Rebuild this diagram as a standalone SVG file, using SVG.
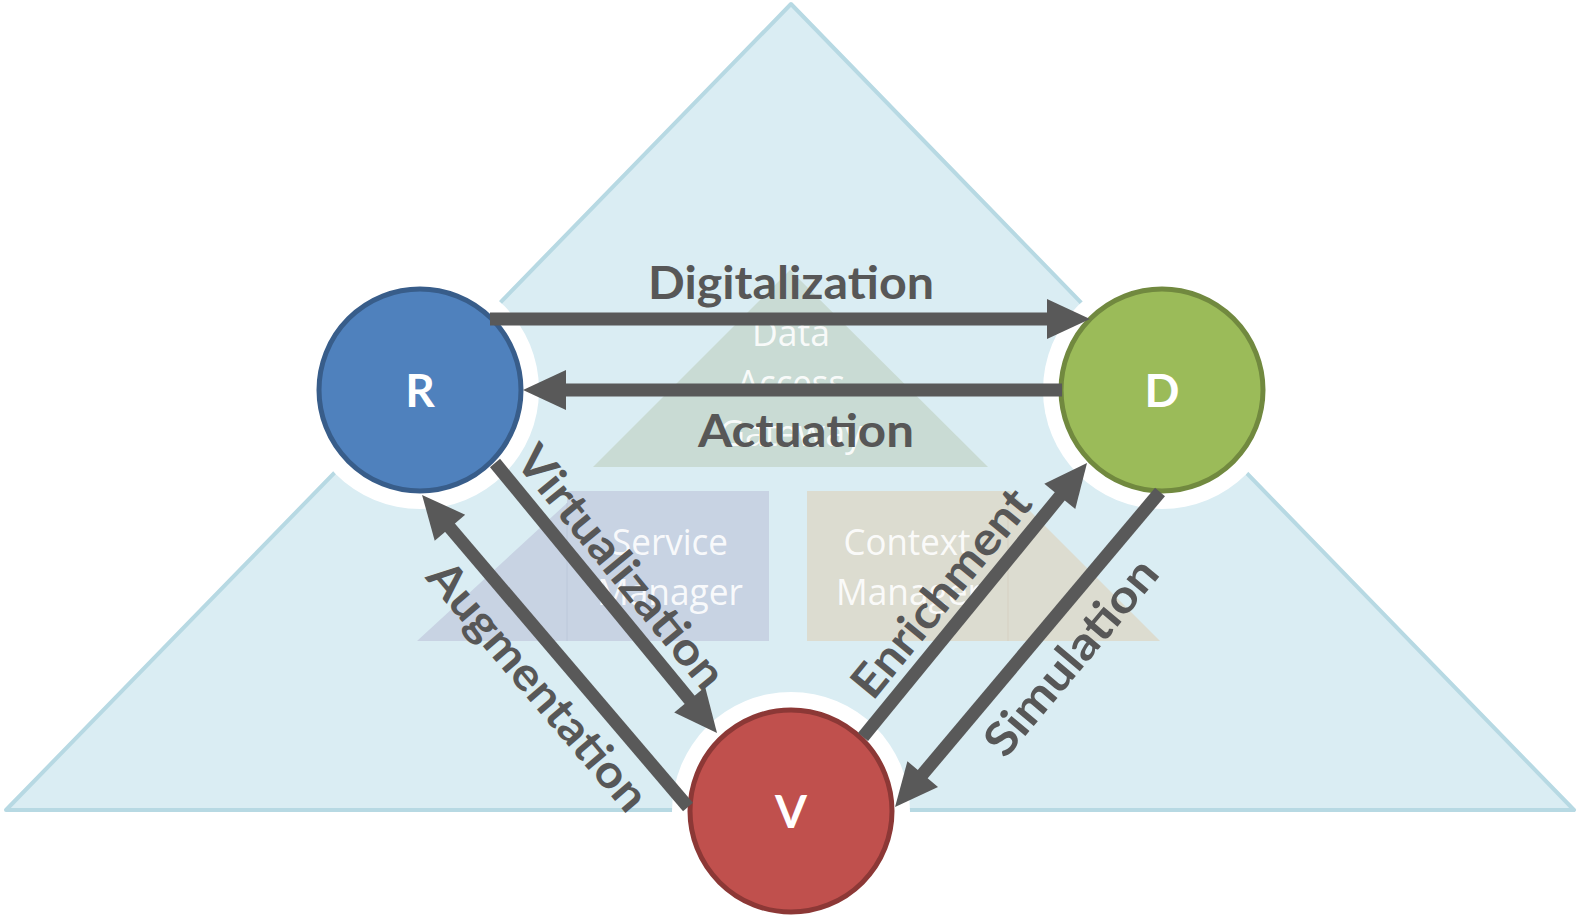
<svg xmlns="http://www.w3.org/2000/svg" width="1579" height="916" viewBox="0 0 1579 916">
<style>
.lbl{font-family:Lato,"Open Sans","Liberation Sans",sans-serif;font-weight:700;font-size:46px;fill:#575757;text-anchor:middle}
.node{font-family:Lato,"Open Sans","Liberation Sans",sans-serif;font-weight:700;font-size:46px;fill:#ffffff;text-anchor:middle}
.fade{font-family:"Open Sans",Lato,"Liberation Sans",sans-serif;font-weight:400;font-size:36px;fill:#ffffff;fill-opacity:0.9;text-anchor:middle}
.halo{fill:#ffffff}
.conn{stroke:#595959;stroke-width:13;fill:none;marker-end:url(#ah)}
</style>
<defs>
<marker id="ah" markerUnits="userSpaceOnUse" orient="auto" refX="0" refY="0" markerWidth="50" markerHeight="50" viewBox="-5 -25 50 50" overflow="visible">
<path d="M-3,-20 L40,0 L-3,20 z" fill="#595959"/>
</marker>
</defs>
<rect width="1579" height="916" fill="#ffffff"/>
<g id="background">
<polygon points="791,4 1574,810 6,810" fill="#daedf3" stroke="#b7d9e3" stroke-width="4" stroke-linejoin="round"/>
</g>
<g id="halos">
<circle class="halo" cx="420" cy="390" r="119"/>
<circle class="halo" cx="1162" cy="390" r="119"/>
<circle class="halo" cx="791" cy="811" r="119"/>
</g>
<g id="data-access-gateway">
<polygon points="790,270 988,467 593,467" fill="#c9dbd4"/>
<text class="fade" x="791" y="346" textLength="78" lengthAdjust="spacingAndGlyphs">Data</text>
<text class="fade" x="791" y="396" textLength="108" lengthAdjust="spacingAndGlyphs">Access</text>
<text class="fade" x="791" y="446" textLength="144" lengthAdjust="spacingAndGlyphs">Gateway</text>
</g>
<g id="service-manager">
<polygon points="417,641 567,503 567,491 769,491 769,641" fill="#c8d3e3"/>
<line x1="567" y1="503" x2="567" y2="641" stroke="#bcc8da" stroke-width="1"/>
<text class="fade" x="670" y="555" textLength="116" lengthAdjust="spacingAndGlyphs">Service</text>
<text class="fade" x="670" y="605" textLength="146" lengthAdjust="spacingAndGlyphs">Manager</text>
</g>
<g id="context-manager">
<polygon points="807,491 1010,491 1160,641 807,641" fill="#dcdcd0"/>
<line x1="1008" y1="491" x2="1008" y2="641" stroke="#d6d0c2" stroke-width="1"/>
<text class="fade" x="907" y="555" textLength="127" lengthAdjust="spacingAndGlyphs">Context</text>
<text class="fade" x="909" y="605" textLength="146" lengthAdjust="spacingAndGlyphs">Manager</text>
</g>
<g id="node-R">
<circle cx="420" cy="390" r="101" fill="#4f81bd" stroke="#385d8a" stroke-width="5"/>
<text class="node" x="420" y="407">R</text>
</g>
<g id="node-D">
<circle cx="1162" cy="390" r="101" fill="#9bbb59" stroke="#71893f" stroke-width="5"/>
<text class="node" x="1162" y="407">D</text>
</g>
<g id="node-V">
<circle cx="791" cy="811" r="101" fill="#c0504d" stroke="#8c3836" stroke-width="5"/>
<text class="node" x="791" y="828">V</text>
</g>
<g id="connectors">
<line class="conn" x1="490" y1="319" x2="1050" y2="319"/>
<line class="conn" x1="1062" y1="390" x2="563" y2="390"/>
<line class="conn" x1="495" y1="463" x2="691.6" y2="702.1"/>
<line class="conn" x1="688" y1="807" x2="448" y2="525.4"/>
<line class="conn" x1="863" y1="737" x2="1061.7" y2="494"/>
<line class="conn" x1="1160" y1="492" x2="920.8" y2="776.4"/>
</g>
<g id="labels">
<text class="lbl" x="791" y="299" textLength="286" lengthAdjust="spacingAndGlyphs">Digitalization</text>
<text class="lbl" x="806" y="447" textLength="216" lengthAdjust="spacingAndGlyphs">Actuation</text>
<text class="lbl" transform="translate(621,567) rotate(50.6)" x="0" y="16" textLength="300" lengthAdjust="spacingAndGlyphs">Virtualization</text>
<text class="lbl" transform="translate(538,686) rotate(49.5)" x="0" y="16" textLength="312" lengthAdjust="spacingAndGlyphs">Augmentation</text>
<text class="lbl" transform="translate(941,593) rotate(-50.7)" x="0" y="16" textLength="255" lengthAdjust="spacingAndGlyphs">Enrichment</text>
<text class="lbl" transform="translate(1071,657) rotate(-49.9)" x="0" y="16" textLength="242" lengthAdjust="spacingAndGlyphs">Simulation</text>
</g>
</svg>
